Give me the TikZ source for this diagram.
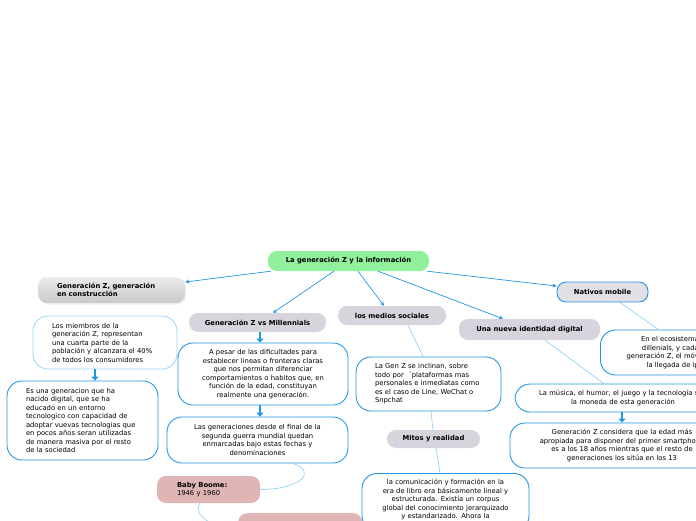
\documentclass[tikz,border=0pt]{standalone}
\usepackage{fontspec}
\setmainfont{DejaVu Sans}
\usetikzlibrary{arrows.meta,shadows}
\definecolor{zblue}{RGB}{33,150,229}
\definecolor{zlight}{RGB}{148,210,243}
\definecolor{zpale}{RGB}{163,216,245}
\definecolor{zgreen}{RGB}{145,240,155}
\definecolor{zlav}{RGB}{216,212,222}
\definecolor{znat}{RGB}{226,224,229}
\definecolor{zpink}{RGB}{224,181,181}
\newcommand{\bodyfont}{\fontsize{6.8}{8.5}\selectfont}
\newcommand{\headfont}{\fontsize{6.8}{8.2}\selectfont\bfseries}
\tikzset{
  pill/.style={rounded corners=9pt, inner sep=0pt, font=\headfont, align=center},
  card/.style={rounded corners=15pt, draw=zblue, line width=0.9pt, fill=white,
    inner sep=0pt, font=\bodyfont},
  branch/.style={draw=zblue, line width=0.7pt, -{Stealth[length=4pt,width=4pt]}},
  stack/.style={draw=zblue, line width=1.6pt, -{Triangle[width=7pt,length=4pt]}},
  thin/.style={draw=zlight, line width=0.7pt},
}
\begin{document}
\begin{tikzpicture}[x=1pt,y=-1pt]
\useasboundingbox (0,0) rectangle (696,520);
\clip (0,0) rectangle (696,520);
% main topic and first level
\node[pill, fill=zgreen, minimum width=161, minimum height=20] (root) at (348.5,261) {La generación Z y la información};
\node[pill, top color=gray!15, bottom color=gray!42, drop shadow={opacity=0.12,shadow xshift=1pt,shadow yshift=-1.5pt}, minimum width=147, minimum height=26,
  text width=109, inner xsep=19pt, align=left] (genz) at (111.5,290) {Generación Z, generación\\en construcción};
\node[pill, fill=zlav, minimum width=137, minimum height=19] (mill) at (257.5,322.5) {Generación Z vs Millennials};
\node[pill, fill=zlav, minimum width=108, minimum height=19] (medios) at (392,315.5) {los medios sociales};
\node[pill, fill=zlav, minimum width=141, minimum height=21] (ident) at (529.5,329.5) {Una nueva identidad digital};
\node[pill, fill=znat, draw=zblue, line width=0.9pt, minimum width=91, minimum height=20] (nat) at (602.5,292) {Nativos mobile};
% left branch
\node[card, draw=zpale, text width=106, inner xsep=19pt, minimum height=53, align=left] (miembros) at (105,342.5)
  {Los miembros de la\\generación Z, representan\\una cuarta parte de la\\población y alcanzara el 40\%\\de todos los consumidores};
\node[card, text width=113, inner xsep=19pt, minimum height=79, align=left] (digital) at (82.5,420.5)
  {Es una generacion que ha\\nacido digital, que se ha\\educado en un entorno\\tecnologico con capacidad de\\adoptar vuevas tecnologias que\\en pocos años seran utilizadas\\de manera masiva por el resto\\de la sociedad};
% millennials branch
\node[card, text width=160, inner xsep=5pt, minimum height=62, align=center] (pesar) at (263,374)
  {A pesar de las dificultades para\\establecer lineas o fronteras claras\\que nos permitan diferenciar\\comportamientos o habitos que, en\\función de la edad, constituyan\\realmente una generación.};
\node[card, text width=171, inner xsep=5pt, minimum height=46, align=center] (gens) at (257.5,440)
  {Las generaciones desde el final de la\\segunda guerra mundial quedan\\enmarcadas bajo estas fechas y\\denominaciones};
\node[pill, fill=zpink, font=\bodyfont, text width=63, inner xsep=20pt, minimum height=27, align=left] (baby) at (208.5,489.5)
  {\textbf{Baby Boome:}\\1946 y 1960};
\node[pill, fill=zpink, anchor=north west, minimum width=124, minimum height=32] (pinkx) at (238,513) {};
% social media branch
\node[card, text width=107, inner xsep=19pt, minimum height=54, align=left] (social) at (428.5,384)
  {La Gen Z se inclinan, sobre\\todo por \ ´plataformas mas\\personales e inmediatas como\\es el caso de Line, WeChat o\\Snpchat};
\node[pill, fill=zlav, minimum width=93, minimum height=18] (mitos) at (433.5,439) {Mitos y realidad};
\node[card, anchor=north, text width=157, inner xsep=5pt, inner ysep=6pt, text depth=40pt, align=center] (com) at (445.5,473)
  {la comunicación y formación en la\\era de libro era básicamente lineal y\\estructurada. Existía un corpus\\global del conocimiento jerarquizado\\y estandarizado. Ahora la};
% right branches
\node[card, anchor=west, minimum width=140, minimum height=45] (ecobox) at (600,352.5) {};
\node[font=\bodyfont, anchor=east, align=right, inner sep=0pt] (ecotext) at (699,352.5)
  {En el ecosistema\\dillenials, y cada\\generación Z, el móv\\la llegada de ip};
\node[card, text width=206, inner xsep=5pt, minimum height=28, align=center] (musica) at (623,398)
  {La música, el humor, el juego y la tecnología son\\la moneda de esta generación};
\node[card, text width=214, inner xsep=5pt, minimum height=45, align=center] (considera) at (622,445.5)
  {Generación Z considera que la edad más\\apropiada para disponer del primer smartphone\\es a los 18 años mientras que el resto de\\generaciones los sitúa en los 13};
% connectors from the main topic
\draw[branch] ([xshift=3pt]root.south west) -- ([yshift=8pt]genz.east);
\draw[branch] ([xshift=-14.5pt]root.south) -- ([xshift=15.5pt]mill.north);
\draw[branch] ([xshift=9.5pt]root.south) -- ([xshift=-8pt]medios.north);
\draw[branch] ([xshift=29.5pt]root.south) -- ([xshift=-26.5pt]ident.north);
\draw[branch] ([xshift=-2pt]root.south east) -- ([yshift=6pt]nat.west);
% stacked arrows
\draw[stack] ([xshift=-10pt]miembros.south) -- ([xshift=12.5pt]digital.north);
\draw[stack] ([xshift=2.5pt]mill.south) -- ([xshift=-3pt]pesar.north);
\draw[stack] ([xshift=-3pt]pesar.south) -- ([xshift=2.5pt]gens.north);
\draw[stack] ([xshift=-1pt]musica.south) -- (considera.north);
% thin links
\draw[thin] ([xshift=16pt]medios.south) -- ([xshift=-5.5pt]social.north);
\draw[thin] ([xshift=2.5pt]social.south) -- ([xshift=-0.5pt]mitos.north);
\draw[thin] ([xshift=2.5pt]mitos.south) -- ([xshift=-5.5pt]com.north);
\draw[thin] ([xshift=15.5pt]ident.south) -- ([xshift=-19pt]musica.north);
\draw[thin] ([xshift=17.5pt]nat.south) -- ([xshift=-12pt]ecobox.north);
\draw[thin, -{Latex[length=2pt,width=2pt]}] ([xshift=35.5pt]gens.south) .. controls (318,472) and (300,489) .. (baby.east);
\draw[thin] ([xshift=-8.5pt]baby.south) .. controls (192,515) and (212,528) .. (pinkx.west);
\end{tikzpicture}
\end{document}
